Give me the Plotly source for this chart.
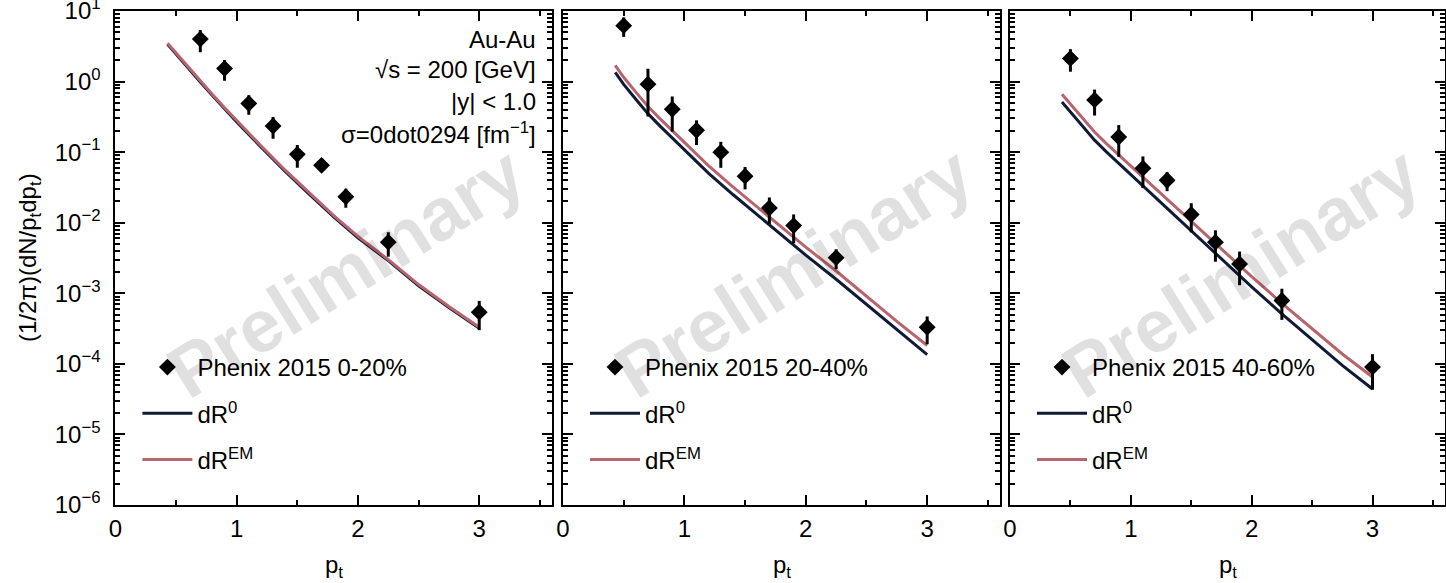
import plotly.graph_objects as go

# ---------------- data ----------------
pt_data_1 = [0.7, 0.9, 1.1, 1.3, 1.5, 1.7, 1.9, 2.25, 3.0]
phenix_0_20 = [4.0, 1.53, 0.49, 0.235, 0.093, 0.065, 0.0233, 0.0053, 0.00054]
phenix_0_20_err = [1.4, 0.5, 0.15, 0.08, 0.033, 0.01, 0.007, 0.002, 0.00024]

pt_data_23 = [0.5, 0.7, 0.9, 1.1, 1.3, 1.5, 1.7, 1.9, 2.25, 3.0]
phenix_20_40 = [6.2, 0.92, 0.405, 0.204, 0.10, 0.0457, 0.0162, 0.0091, 0.0032, 0.00033]
phenix_20_40_err = [1.9, 0.6, 0.21, 0.078, 0.04, 0.016, 0.0066, 0.004, 0.001, 0.00014]
phenix_40_60 = [2.13, 0.55, 0.164, 0.059, 0.040, 0.0131, 0.0053, 0.0026, 0.00079, 9.0e-5]
phenix_40_60_err = [0.75, 0.22, 0.078, 0.028, 0.012, 0.0058, 0.0025, 0.0013, 0.00037, 4.7e-5]

pt_model = [0.43, 0.5, 0.6, 0.7, 0.8, 0.9, 1.0, 1.2, 1.4, 1.6, 1.8, 2.0, 2.25, 2.5, 2.75, 3.0]
dR0_0_20 = [3.39, 2.45, 1.55, 0.985, 0.633, 0.410, 0.268, 0.118, 0.0533, 0.0251, 0.0121, 0.0061, 0.0029, 0.00128, 6.3e-4, 3.2e-4]
dREM_0_20 = [3.50, 2.54, 1.61, 1.02, 0.658, 0.427, 0.279, 0.123, 0.0555, 0.0262, 0.0126, 0.0064, 0.0030, 0.00133, 6.5e-4, 3.3e-4]
dR0_20_40 = [1.35, 0.912, 0.562, 0.351, 0.234, 0.158, 0.107, 0.0501, 0.0251, 0.0129, 0.00676, 0.00347, 0.00158, 6.9e-4, 3.0e-4, 1.35e-4]
dREM_20_40 = [1.70, 1.15, 0.708, 0.443, 0.296, 0.200, 0.136, 0.0638, 0.0321, 0.0166, 0.00875, 0.00451, 0.00207, 9.1e-4, 4.0e-4, 1.82e-4]
dR0_40_60 = [0.513, 0.372, 0.234, 0.148, 0.100, 0.0692, 0.0479, 0.0234, 0.0112, 0.00537, 0.00257, 0.00123, 5.1e-4, 2.19e-4, 9.5e-5, 4.4e-5]
dREM_40_60 = [0.661, 0.481, 0.305, 0.193, 0.131, 0.0912, 0.0634, 0.0313, 0.0151, 0.00733, 0.00355, 0.00172, 7.2e-4, 3.13e-4, 1.38e-4, 6.5e-5]

centralities = ["0-20%", "20-40%", "40-60%"]
y_tick_vals = [1e-6, 1e-5, 1e-4, 1e-3, 1e-2, 1e-1, 1e0, 1e1]
y_tick_text = ["10<sup>−6</sup>", "10<sup>−5</sup>", "10<sup>−4</sup>", "10<sup>−3</sup>",
               "10<sup>−2</sup>", "10<sup>−1</sup>", "10<sup>0</sup>", "10<sup>1</sup>"]
x_tick_vals = [0, 1, 2, 3]
x_minor_vals = [0.5, 1.5, 2.5, 3.5]
info_lines = ["Au-Au", "√s = 200 [GeV]", "|y| < 1.0", "σ=0dot0294 [fm<sup>−1</sup>]"]

# ---------------- style ----------------
W, H = 1446, 583
FONT = "Liberation Sans"
NAVY = "#0f1b36"
ROSE = "#b8646d"
panels_px = [(115.4, 552.0), (563.0, 1000.0), (1010.0, 1445.0)]
ytop_px, ybot_px = 11.0, 505.0
y_minor_vals = [k * 10.0 ** n for n in range(-6, 1) for k in range(2, 10)]

data_x = [pt_data_1, pt_data_23, pt_data_23]
data_y = [phenix_0_20, phenix_20_40, phenix_40_60]
data_e = [phenix_0_20_err, phenix_20_40_err, phenix_40_60_err]
model_r0 = [dR0_0_20, dR0_20_40, dR0_40_60]
model_em = [dREM_0_20, dREM_20_40, dREM_40_60]

fig = go.Figure()
layout = {}
annotations = []

for i in range(3):
    sfx = "" if i == 0 else str(i + 1)
    xa, ya, lg = "x" + sfx, "y" + sfx, "legend" + sfx
    fig.add_trace(go.Scatter(
        x=pt_model, y=model_r0[i], mode="lines", line=dict(color=NAVY, width=3),
        name="dR<sup>0</sup>", xaxis=xa, yaxis=ya, legend=lg,
        legendgroup=f"g2_{i}", legendrank=2))
    fig.add_trace(go.Scatter(
        x=pt_model, y=model_em[i], mode="lines", line=dict(color=ROSE, width=3),
        name="dR<sup>EM</sup>", xaxis=xa, yaxis=ya, legend=lg,
        legendgroup=f"g3_{i}", legendrank=3))
    fig.add_trace(go.Scatter(
        x=data_x[i], y=data_y[i], mode="markers",
        marker=dict(symbol="diamond", size=13, color="black"),
        error_y=dict(type="data", array=data_e[i], symmetric=True, thickness=3, width=0, color="black"),
        name="Phenix 2015 " + centralities[i], xaxis=xa, yaxis=ya, legend=lg,
        legendgroup=f"g1_{i}", legendrank=1))

    l, r = panels_px[i]
    layout["xaxis" + sfx] = dict(
        domain=[l / W, r / W], range=[0, 3.6], anchor=ya,
        tickmode="array", tickvals=x_tick_vals, ticks="inside", ticklen=10, tickwidth=2,
        tickcolor="black", showline=True, linecolor="black", linewidth=2, mirror="allticks",
        showgrid=False, zeroline=False, automargin=False, ticklabelstandoff=1,
        ticklabeloverflow="allow",
        tickfont=dict(family=FONT, size=24, color="black"),
        minor=dict(tickmode="array", tickvals=x_minor_vals, ticks="inside", ticklen=5,
                   tickwidth=2, tickcolor="black", showgrid=False))
    layout["yaxis" + sfx] = dict(
        domain=[1 - ybot_px / H, 1 - ytop_px / H], type="log", range=[-6.0001, 1.0001], anchor=xa,
        tickmode="array", tickvals=y_tick_vals, ticktext=y_tick_text,
        showticklabels=(i == 0), ticks="inside", ticklen=10, tickwidth=2, tickcolor="black",
        showline=True, linecolor="black", linewidth=2, mirror="allticks",
        showgrid=False, zeroline=False, automargin=False, ticklabelstandoff=8,
        ticklabeloverflow="allow",
        tickfont=dict(family=FONT, size=24, color="black"),
        minor=dict(tickmode="array", tickvals=y_minor_vals, ticks="inside", ticklen=5,
                   tickwidth=1.5, tickcolor="black", showgrid=False))
    layout[lg] = dict(
        x=(l + 22) / W, y=1 - 345 / H, xanchor="left", yanchor="top",
        bgcolor="rgba(0,0,0,0)", font=dict(family=FONT, size=24, color="black"),
        tracegroupgap=12, itemwidth=50, traceorder="grouped")

    # watermark
    annotations.append(dict(
        text="<b>Preliminary</b>", xref="paper", yref="paper", x=(l + 230) / W, y=1 - 272 / H,
        xanchor="center", yanchor="middle", showarrow=False, textangle=-32,
        font=dict(family=FONT, size=74, color="rgba(0,0,0,0.12)")))
    # x title
    annotations.append(dict(
        text="p<sub>t</sub>", xref="paper", yref="paper", x=(l + r) / 2 / W, y=1 - 566 / H,
        xanchor="center", yanchor="middle", showarrow=False,
        font=dict(family=FONT, size=24, color="black")))

info_y = [40, 70, 101, 133]
for txt, yy in zip(info_lines, info_y):
    annotations.append(dict(
        text=txt, xref="paper", yref="paper", x=537.5 / W, y=1 - yy / H,
        xanchor="right", yanchor="middle", showarrow=False,
        font=dict(family=FONT, size=24, color="black")))

annotations.append(dict(
    text="(1/2π)(dN/p<sub>t</sub>dp<sub>t</sub>)", xref="paper", yref="paper",
    x=30 / W, y=1 - 258 / H, xanchor="center", yanchor="middle", textangle=-90, showarrow=False,
    font=dict(family=FONT, size=24, color="black")))

fig.update_layout(
    width=W, height=H, margin=dict(l=0, r=0, t=0, b=0),
    plot_bgcolor="white", paper_bgcolor="white", showlegend=True,
    annotations=annotations, **layout)

fig.write_html("out.html")
